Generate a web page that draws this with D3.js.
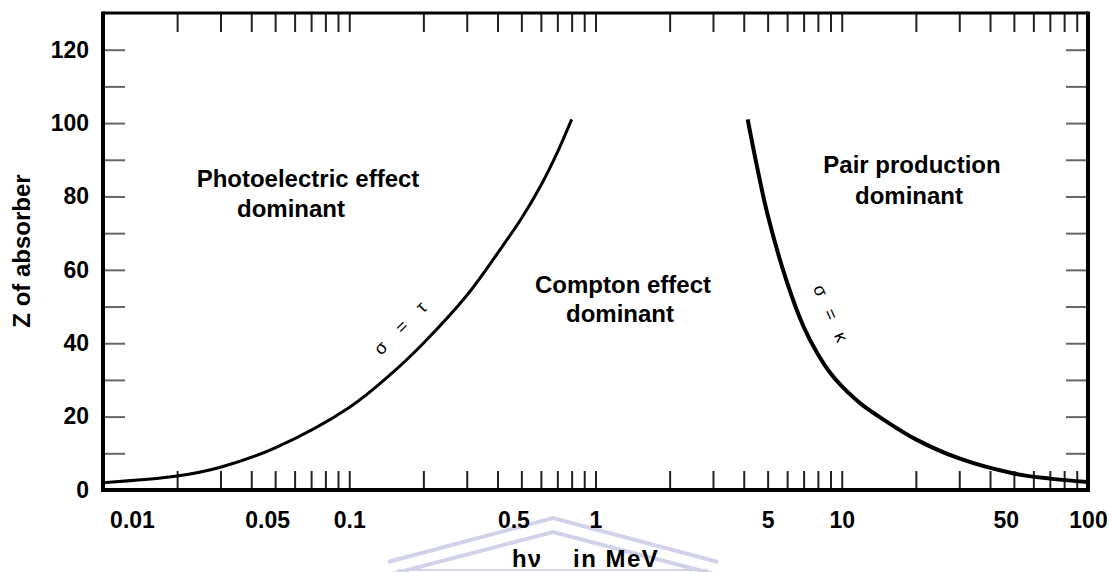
<!DOCTYPE html>
<html>
<head>
<meta charset="utf-8">
<script src="https://cdn.jsdelivr.net/npm/d3@7"></script>
<style>
  html, body { margin: 0; padding: 0; background: #fff; }
  svg text { font-family: "Liberation Sans", Arial, sans-serif; }
</style>
</head>
<body>
<div id="chart"></div>
<script>
// boundary curves (photon energy in MeV, Z of absorber)
const photoEnergy = [0.01, 0.02, 0.03, 0.05, 0.1, 0.15, 0.2, 0.3, 0.4, 0.5, 0.6, 0.7, 0.8];
const photoZ = [2, 3.8, 6.2, 11.5, 22.5, 32, 40, 53, 64.5, 74, 83, 92, 101];
const pairEnergy = [4.15, 4.5, 5, 6, 7, 8, 9, 10, 12, 15, 20, 30, 50, 70, 100];
const pairZ = [101, 89, 75, 56.5, 44.5, 37, 31.8, 28.3, 23.4, 18.9, 13.8, 8.6, 4.5, 3.1, 2.2];

const xLabels = [0.01, 0.05, 0.1, 0.5, 1, 5, 10, 50, 100];
const xMinor = [0.02, 0.03, 0.04, 0.05, 0.06, 0.07, 0.08, 0.09, 0.1,
  0.2, 0.3, 0.4, 0.5, 0.6, 0.7, 0.8, 0.9, 1,
  2, 3, 4, 5, 6, 7, 8, 9, 10,
  20, 30, 40, 50, 60, 70, 80, 90];
const yLabels = [0, 20, 40, 60, 80, 100, 120];
const yMinor = [10, 20, 30, 40, 50, 60, 70, 80, 90, 100, 110, 120];

const regionLabels = [
  ["Photoelectric effect", "dominant"],
  ["Compton effect", "dominant"],
  ["Pair production", "dominant"]
];

const W = 1109, H = 572;
const pLeft = 103, pRight = 1088, pTop = 13, pBottom = 490;

const svg = d3.select('#chart').append('svg')
  .attr('width', W)
  .attr('height', H);

svg.append('rect').attr('width', W).attr('height', H).attr('fill', '#fff');

const x = d3.scaleLog().domain([0.01, 100]).range([pLeft, pRight]);
const y = d3.scaleLinear().domain([0, 130]).range([pBottom, pTop]);

// faint watermark behind the axis title
const mark = svg.append('g').attr('fill', 'none').attr('stroke', '#d2d2e8').attr('stroke-width', 4);
mark.append('polyline').attr('points', '388,562 553,518 718,562');
mark.append('polyline').attr('points', '392,574 553,532 714,574');
mark.append('line').attr('x1', 398).attr('x2', 708).attr('y1', 570).attr('y2', 570).attr('stroke-width', 2);

// inner ticks
function styleTicks(g, color) {
  g.select('.domain').remove();
  g.selectAll('.tick line').attr('stroke', color).attr('stroke-width', 2);
  g.selectAll('.tick text').remove();
}

svg.append('g')
  .attr('transform', 'translate(0,' + pBottom + ')')
  .call(d3.axisBottom(x).tickValues(xMinor).tickSize(-19))
  .call(g => styleTicks(g, '#222'));

svg.append('g')
  .attr('transform', 'translate(0,' + pTop + ')')
  .call(d3.axisTop(x).tickValues(xMinor).tickSize(-19))
  .call(g => styleTicks(g, '#222'));

svg.append('g')
  .attr('transform', 'translate(' + pLeft + ',0)')
  .call(d3.axisLeft(y).tickValues(yMinor).tickSize(-22))
  .call(g => styleTicks(g, '#666'));

svg.append('g')
  .attr('transform', 'translate(' + pRight + ',0)')
  .call(d3.axisRight(y).tickValues(yMinor).tickSize(-22))
  .call(g => styleTicks(g, '#666'));

// tick labels
const xLab = svg.append('g')
  .attr('transform', 'translate(0,' + pBottom + ')')
  .call(d3.axisBottom(x).tickValues(xLabels).tickSize(0).tickPadding(22)
    .tickFormat(d => String(d)));
xLab.select('.domain').remove();
xLab.selectAll('text')
  .attr('font-size', 23).attr('font-weight', 'bold').attr('fill', '#000')
  .attr('font-family', '"Liberation Sans", Arial, sans-serif')
  .attr('dx', d => d === 0.01 ? 29 : (d === 0.5 || d === 0.05 || d === 50) ? -8 : 0);

const yLab = svg.append('g')
  .attr('transform', 'translate(' + pLeft + ',0)')
  .call(d3.axisLeft(y).tickValues(yLabels).tickSize(0).tickPadding(14));
yLab.select('.domain').remove();
yLab.selectAll('text')
  .attr('font-size', 23).attr('font-weight', 'bold').attr('fill', '#000')
  .attr('font-family', '"Liberation Sans", Arial, sans-serif');

// frame
const frame = svg.append('g').attr('stroke', '#000').attr('fill', 'none');
frame.append('line').attr('x1', pLeft).attr('x2', pRight).attr('y1', pTop).attr('y2', pTop).attr('stroke-width', 3);
frame.append('line').attr('x1', pLeft).attr('x2', pRight).attr('y1', pBottom).attr('y2', pBottom).attr('stroke-width', 4);
frame.append('line').attr('x1', pLeft).attr('x2', pLeft).attr('y1', pTop - 1.5).attr('y2', pBottom + 2).attr('stroke-width', 4);
frame.append('line').attr('x1', pRight).attr('x2', pRight).attr('y1', pTop - 1.5).attr('y2', pBottom + 2).attr('stroke-width', 4);

// boundary curves
const line = d3.line()
  .x(d => x(d[0]))
  .y(d => y(d[1]))
  .curve(d3.curveCatmullRom.alpha(0.5));

svg.append('path')
  .datum(d3.zip(photoEnergy, photoZ))
  .attr('d', line)
  .attr('fill', 'none').attr('stroke', '#000').attr('stroke-width', 3);

svg.append('path')
  .datum(d3.zip(pairEnergy, pairZ))
  .attr('d', line)
  .attr('fill', 'none').attr('stroke', '#000').attr('stroke-width', 4);

// curve labels
svg.append('text')
  .attr('transform', 'translate(407,330) rotate(-45)')
  .attr('text-anchor', 'middle')
  .attr('font-family', '"DejaVu Sans", sans-serif')
  .attr('font-size', 18)
  .attr('letter-spacing', 7)
  .text('σ = τ');

svg.append('text')
  .attr('transform', 'translate(826,318) rotate(66)')
  .attr('text-anchor', 'middle')
  .attr('font-family', '"DejaVu Sans", sans-serif')
  .attr('font-size', 18)
  .attr('letter-spacing', 5)
  .text('σ = κ');

// region labels
const regionPos = [
  [[308, 187], [291, 217]],
  [[623, 293], [620, 322]],
  [[912, 173], [909, 204]]
];
regionLabels.forEach((lines, i) => {
  lines.forEach((t, j) => {
    svg.append('text')
      .attr('x', regionPos[i][j][0])
      .attr('y', regionPos[i][j][1])
      .attr('text-anchor', 'middle')
      .attr('font-size', 24)
      .attr('font-weight', 'bold')
      .text(t);
  });
});

// axis titles
svg.append('text')
  .attr('transform', 'translate(30,251) rotate(-90)')
  .attr('text-anchor', 'middle')
  .attr('font-size', 24)
  .attr('font-weight', 'bold')
  .text('Z of absorber');

svg.append('text')
  .attr('x', 512)
  .attr('y', 567)
  .attr('font-size', 24)
  .attr('font-weight', 'bold')
  .attr('letter-spacing', 1)
  .text('hν');

svg.append('text')
  .attr('x', 573)
  .attr('y', 567)
  .attr('font-size', 24)
  .attr('font-weight', 'bold')
  .attr('letter-spacing', 1.5)
  .text('in MeV');
</script>
</body>
</html>
